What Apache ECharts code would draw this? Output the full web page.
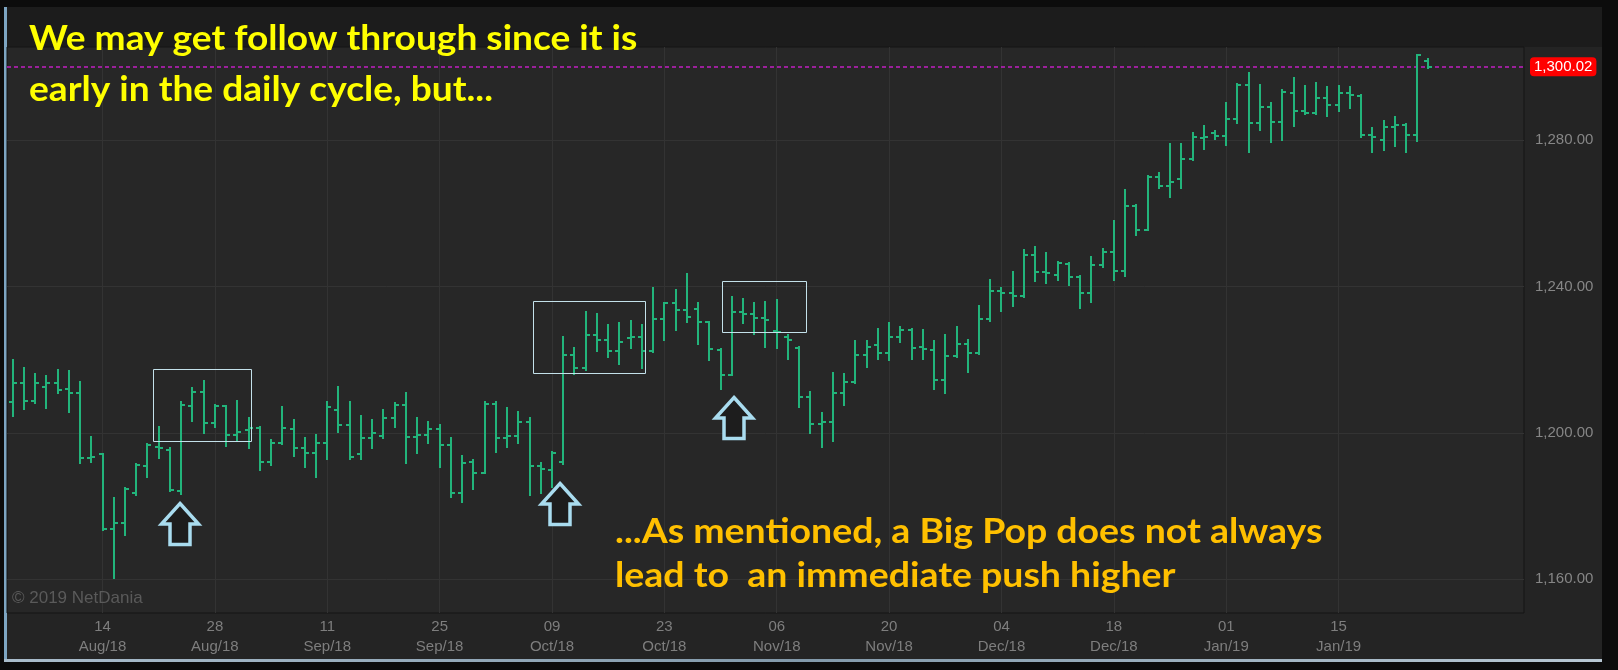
<!DOCTYPE html>
<html><head><meta charset="utf-8">
<script src="https://cdn.jsdelivr.net/npm/echarts@6/dist/echarts.min.js"></script>
<style>html,body{margin:0;padding:0;background:#0c0c0c}#c{width:1618px;height:670px}</style>
</head><body><div id="c"></div><script>
// ---- data ----
const opens = [1208.4,1213.6,1208.7,1212.5,1213.6,1212.0,1210.9,1193.1,1194.2,1173.7,
1175.4,1183.6,1190.9,1196.1,1195.3,1184.1,1207.3,1211.1,1202.7,1207.3,
1199.4,1200.8,1201.3,1192.0,1197.2,1201.0,1195.8,1194.4,1197.1,1206.2,
1202.1,1194.2,1198.5,1199.2,1204.0,1207.6,1199.0,1199.4,1201.0,1196.7,
1183.6,1192.1,1189.1,1207.9,1198.5,1199.1,1203.0,1191.0,1189.8,1192.1,
1221.2,1217.6,1226.7,1225.3,1222.4,1225.8,1226.1,1222.4,1231.0,1235.4,
1233.5,1233.7,1230.4,1222.6,1215.8,1233.1,1232.6,1231.3,1227.9,1226.1,
1223.3,1209.7,1202.4,1203.0,1211.0,1214.0,1221.3,1224.0,1221.7,1226.1,
1228.1,1223.5,1222.6,1214.4,1221.0,1224.3,1221.9,1231.0,1238.8,1238.3,
1237.4,1248.6,1244.0,1243.1,1246.1,1242.5,1238.1,1245.8,1249.5,1244.3,
1262.0,1255.4,1269.8,1267.4,1269.3,1274.7,1280.5,1282.0,1281.1,1285.6,
1295.0,1284.7,1289.1,1285.0,1292.9,1288.0,1287.5,1291.4,1289.6,1292.9,
1292.0,1281.4,1280.0,1283.5,1284.1,1281.4,1301.7];
const highs = [1219.9,1217.7,1216.1,1215.5,1217.2,1216.9,1213.9,1198.9,1194.2,1182.2,
1184.9,1191.5,1196.9,1201.6,1195.8,1208.4,1212.2,1214.2,1207.6,1207.3,
1208.7,1204.0,1201.6,1198.0,1207.0,1203.5,1198.5,1199.4,1208.5,1212.4,
1208.5,1204.6,1203.5,1206.2,1208.2,1211.0,1204.0,1203.0,1202.1,1198.5,
1193.7,1192.6,1208.5,1208.5,1206.7,1205.8,1204.0,1191.8,1194.8,1226.3,
1223.1,1233.1,1232.4,1229.4,1229.9,1230.6,1229.4,1239.5,1235.5,1239.0,
1243.4,1235.4,1230.4,1222.8,1237.2,1236.5,1235.4,1235.8,1236.3,1226.7,
1223.5,1211.2,1205.3,1216.4,1216.1,1225.2,1225.2,1228.5,1229.9,1228.8,
1228.5,1228.1,1225.2,1226.7,1228.8,1225.5,1234.6,1241.7,1239.5,1244.0,
1249.9,1250.9,1249.2,1246.8,1246.5,1242.8,1248.0,1250.1,1258.0,1266.3,
1262.2,1270.2,1270.9,1278.9,1278.9,1281.8,1283.8,1282.5,1290.0,1295.3,
1298.2,1295.0,1290.2,1293.7,1296.8,1294.7,1295.7,1294.6,1294.7,1294.4,
1292.3,1283.2,1285.3,1286.2,1284.5,1303.2,1302.0];
const lows = [1204.6,1206.5,1208.1,1206.8,1210.9,1205.7,1191.7,1192.0,1173.4,1160.3,
1172.1,1183.0,1187.9,1193.1,1184.1,1183.3,1203.2,1199.9,1201.6,1196.4,
1198.0,1195.8,1189.8,1191.2,1197.0,1193.7,1190.8,1188.0,1192.8,1200.3,
1193.0,1192.9,1196.0,1198.5,1201.7,1191.8,1194.6,1197.1,1190.8,1182.4,
1181.0,1184.8,1189.1,1194.9,1196.2,1197.1,1183.0,1183.5,1185.3,1191.6,
1216.2,1217.1,1222.4,1220.8,1218.8,1223.1,1217.6,1222.2,1225.5,1228.1,
1230.4,1224.4,1219.9,1211.9,1215.8,1229.9,1227.0,1223.5,1223.1,1220.3,
1207.1,1199.9,1196.2,1197.8,1207.6,1213.7,1218.1,1220.1,1219.9,1224.9,
1220.1,1220.1,1211.9,1211.0,1220.8,1216.7,1221.5,1230.6,1233.4,1234.6,
1237.0,1241.6,1241.0,1241.8,1240.4,1234.0,1235.8,1245.4,1241.8,1242.8,
1254.0,1255.4,1266.8,1264.3,1266.8,1274.5,1277.5,1280.2,1278.6,1284.7,
1276.8,1282.8,1279.5,1280.0,1283.8,1287.1,1287.1,1286.6,1288.0,1288.7,
1280.7,1276.8,1277.4,1278.4,1276.8,1279.8,1299.6];
const closes = [1213.6,1208.7,1213.6,1213.6,1211.7,1210.9,1193.1,1193.4,1173.7,1175.4,
1184.6,1191.2,1196.7,1195.8,1184.4,1207.6,1211.1,1202.7,1207.3,1199.4,
1200.2,1201.3,1192.0,1197.2,1201.2,1195.8,1194.4,1197.1,1207.0,1202.1,
1193.3,1198.5,1199.9,1204.0,1207.6,1199.0,1199.4,1201.0,1196.7,1183.6,
1191.8,1189.1,1207.9,1198.5,1199.1,1203.0,1191.0,1190.0,1194.4,1221.2,
1217.6,1226.7,1225.3,1222.4,1224.9,1226.1,1222.4,1231.0,1235.4,1233.5,
1231.7,1230.4,1222.8,1215.8,1233.1,1232.6,1231.5,1230.8,1227.6,1225.3,
1209.7,1202.4,1203.0,1211.0,1214.0,1221.3,1223.5,1221.7,1226.1,1228.1,
1223.3,1222.8,1214.4,1221.0,1224.3,1221.9,1231.0,1238.8,1238.3,1237.4,
1248.6,1244.0,1243.6,1246.3,1242.5,1238.1,1245.8,1249.5,1244.3,1262.0,
1255.4,1269.8,1267.4,1268.6,1274.7,1280.7,1280.7,1281.1,1285.6,1295.0,
1284.7,1289.1,1285.0,1293.2,1288.0,1287.5,1291.4,1289.6,1292.9,1292.3,
1281.4,1280.7,1283.5,1284.1,1281.4,1303.2,1300.02];
const tickIndex = [8,18,28,38,48,58,68,78,88,98,108,118];
const tickLabels = ['14\nAug/18','28\nAug/18','11\nSep/18','25\nSep/18','09\nOct/18','23\nOct/18',
  '06\nNov/18','20\nNov/18','04\nDec/18','18\nDec/18','01\nJan/19','15\nJan/19'];
const yTicks = [1160,1200,1240,1280];
const lastPrice = 1300.02;
const yMin = 1150.8, yMax = 1305.4;
// annotation anchors in data coords: [fromIndex, toIndex, topValue, bottomValue]
const boxes = [[12.47,21.19,1217.4,1197.6],[46.35,56.34,1236.1,1216.5],[63.16,70.67,1241.6,1227.6]];
// arrow apex: [index, value]
const arrows = [[14.9,1181.1],[48.74,1186.6],[64.2,1210.0]];
const noteTop = ['We may get follow through since it is','early in the daily cycle, but...'];
const noteBottom = ['...As mentioned, a Big Pop does not always','lead to  an immediate push higher'];

// categories: weekdays starting 2 Aug 2018 (incl. empty slots on the right)
const categories = [];
(function(){ const d = new Date(Date.UTC(2018,7,2));
  while (categories.length < 135) { const w = d.getUTCDay();
    if (w !== 0 && w !== 6) categories.push(d.toISOString().slice(0,10));
    d.setUTCDate(d.getUTCDate()+1); } })();

const BAR = '#22b47b';
const fmt = v => Number(v).toLocaleString('en-US',{minimumFractionDigits:2,maximumFractionDigits:2});
const axisFont = '"Liberation Sans", Arial, sans-serif';

const chart = echarts.init(document.getElementById('c'), null, {renderer:'canvas', width:1618, height:670});
const data = opens.map((o,i)=>[i,o,highs[i],lows[i],closes[i]]);

function renderItem(params, api){
  const i = api.value(0);
  const o = api.coord([i, api.value(1)]);
  const h = api.coord([i, api.value(2)]);
  const l = api.coord([i, api.value(3)]);
  const c = api.coord([i, api.value(4)]);
  const x = Math.round(o[0]);
  const st = {stroke: BAR, lineWidth: 2};
  const yo = Math.round(o[1]), yc = Math.round(c[1]);
  return {type:'group', children:[
    {type:'line', shape:{x1:x, y1:Math.round(h[1])-1, x2:x, y2:Math.round(l[1])+1}, style:st},
    {type:'line', shape:{x1:x-4, y1:yo, x2:x, y2:yo}, style:st},
    {type:'line', shape:{x1:x, y1:yc, x2:x+4, y2:yc}, style:st}
  ]};
}

const gridMarks = yTicks.map(v=>({yAxis:v, lineStyle:{color:'#333333', width:1, type:'solid'}, label:{show:false}}))
  .concat(tickIndex.map(i=>({xAxis:categories[i], lineStyle:{color:'#333333', width:1, type:'solid'}, label:{show:false}})));
gridMarks.push({yAxis:lastPrice, lineStyle:{color:'#c21fc2', width:1.5, type:[4,3]},
  label:{show:true, position:'end', distance:6, formatter:()=>fmt(lastPrice), color:'#ffffff',
    backgroundColor:'#ff0000', borderRadius:4, padding:[2,4,2,4], fontSize:15, fontFamily:axisFont}});

chart.setOption({
  backgroundColor:'#0c0c0c',
  animation:false,
  grid:{left:7, right:94, top:47, bottom:57, show:true, backgroundColor:'#272727', borderColor:'#151515', borderWidth:1, z:1},
  xAxis:{type:'category', data:categories, boundaryGap:true,
    axisLine:{show:false}, axisTick:{show:false}, splitLine:{show:false},
    axisLabel:{interval:(i)=>tickIndex.indexOf(i)>=0, formatter:(v,i)=>{const k=tickIndex.indexOf(i); return k>=0?tickLabels[k]:'';},
      color:'#7e7e7e', fontFamily:axisFont, fontSize:15, lineHeight:20, margin:4}},
  yAxis:{type:'value', position:'right', min:yMin, max:yMax, scale:true,
    axisLine:{show:false}, axisTick:{show:false}, splitLine:{show:false},
    axisLabel:{customValues:yTicks, formatter:v=>fmt(v), color:'#868686', fontFamily:axisFont, fontSize:15, margin:11}},
  series:[{type:'custom', data:data, encode:{x:0, y:[1,2,3,4]}, renderItem:renderItem, clip:true, z:3,
    markLine:{silent:true, symbol:'none', animation:false, z:2, data:gridMarks}}]
});

function px(idx, v){
  const a = chart.convertToPixel({gridIndex:0},[categories[0], v]);
  const b = chart.convertToPixel({gridIndex:0},[categories[1], v]);
  return [a[0] + idx*(b[0]-a[0]), a[1]];
}

const g = [];
// background panels
g.push({type:'rect', z:-5, shape:{x:7, y:7, width:1595, height:652}, style:{fill:'#242424'}});
g.push({type:'rect', z:-4, shape:{x:7, y:7, width:1595, height:40}, style:{fill:'#1c1c1c'}});
g.push({type:'rect', z:-4, shape:{x:4, y:7, width:3, height:655}, style:{fill:'#7da5c2'}});
g.push({type:'rect', z:-4, shape:{x:4, y:659, width:1598, height:3},
  style:{fill:new echarts.graphic.LinearGradient(0,0,1,0,[{offset:0,color:'#a9bccb'},{offset:0.5,color:'#8299aa'},{offset:1,color:'#b7c7d3'}])}});
g.push({type:'text', z:50, x:12, y:598, style:{text:'\u00a9 2019 NetDania', fill:'#5a5a5a', font:'17px '+axisFont, verticalAlign:'middle'}});
// boxes
boxes.forEach(b=>{ const p1 = px(b[0], b[2]), p2 = px(b[1], b[3]);
  g.push({type:'rect', z:60, shape:{x:Math.round(p1[0])+0.5, y:Math.round(p1[1])+0.5, width:Math.round(p2[0]-p1[0]), height:Math.round(p2[1]-p1[1])},
    style:{fill:'none', stroke:'#c3e1ea', lineWidth:1}}); });
// arrows
arrows.forEach(a=>{ const p = px(a[0], a[1]);
  g.push({type:'polygon', z:60, x:Math.round(p[0]), y:Math.round(p[1]),
    shape:{points:[[0,1.5],[18.5,22],[10,22],[10,42.5],[-10,42.5],[-10,22],[-18.5,22]]},
    style:{fill:'#1d1d1d', stroke:'#a9dcef', lineWidth:3.5, lineJoin:'miter'}}); });
// notes
const noteFont = 'bold 35px Lato, "Open Sans", sans-serif';
g.push({type:'text', z:80, x:29, y:39, scaleX:1.06, style:{text:noteTop[0], fill:'#ffff00', font:noteFont, verticalAlign:'middle'}});
g.push({type:'text', z:80, x:29, y:90, scaleX:1.06, style:{text:noteTop[1], fill:'#ffff00', font:noteFont, verticalAlign:'middle'}});
g.push({type:'text', z:80, x:615, y:532, scaleX:1.07, style:{text:noteBottom[0], fill:'#ffc000', font:noteFont, verticalAlign:'middle'}});
g.push({type:'text', z:80, x:615, y:576, scaleX:1.07, style:{text:noteBottom[1], fill:'#ffc000', font:noteFont, verticalAlign:'middle'}});
chart.setOption({graphic:g});
</script></body></html>
